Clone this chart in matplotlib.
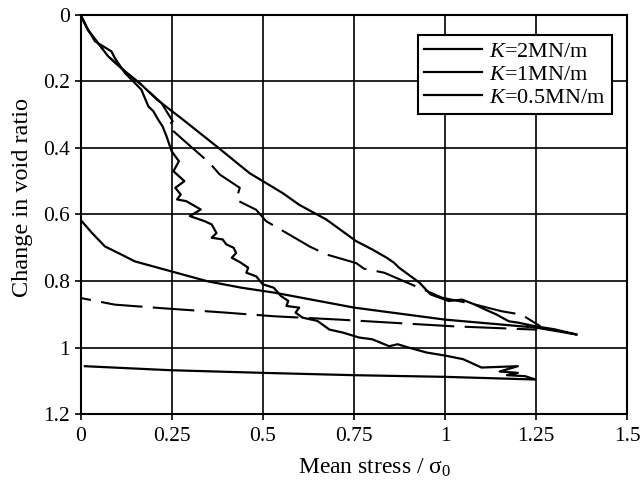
import matplotlib
matplotlib.use("Agg")
import matplotlib.pyplot as plt
from matplotlib.lines import Line2D

plt.rcParams["font.family"] = ["Liberation Serif", "DejaVu Serif"]
plt.rcParams["mathtext.fontset"] = "custom"
plt.rcParams["mathtext.it"] = "Liberation Serif:italic"
plt.rcParams["mathtext.rm"] = "Liberation Serif"

# K = 2 MN/m : loading then unloading
k2_x = [0, 0.02, 0.076, 0.122, 0.167, 0.21, 0.281, 0.373, 0.464, 0.555, 0.6,
        0.674, 0.756, 0.80, 0.84, 0.86, 0.874, 0.93, 0.96, 0.975, 1.01, 1.047,
        1.08, 1.111, 1.14, 1.175, 1.20, 1.248, 1.30, 1.362,
        1.25, 1.0, 0.751, 0.532, 0.441, 0.349, 0.249, 0.149, 0.113, 0.067,
        0.031, 0.0]
k2_y = [0, 0.045, 0.125, 0.17, 0.21, 0.255, 0.315, 0.395, 0.476, 0.536, 0.571,
        0.615, 0.68, 0.705, 0.73, 0.745, 0.76, 0.805, 0.84, 0.846, 0.86, 0.856,
        0.87, 0.886, 0.90, 0.921, 0.925, 0.936, 0.945, 0.961,
        0.94, 0.916, 0.88, 0.835, 0.82, 0.801, 0.771, 0.741, 0.721, 0.696,
        0.655, 0.616]

# K = 1 MN/m
k1_x = [0, 0.02, 0.076, 0.122, 0.167, 0.222, 0.253, 0.24, 0.286, 0.354, 0.382,
        0.437, 0.427, 0.482, 0.509, 0.619, 0.628, 0.674, 0.756, 0.778, 0.833,
        0.92, 0.992, 1.08, 1.156, 1.21, 1.26,
        1.248, 1.02, 0.71, 0.532, 0.386, 0.24, 0.094, 0.0]
k1_y = [0, 0.045, 0.125, 0.17, 0.21, 0.265, 0.32, 0.335, 0.38, 0.445, 0.48,
        0.52, 0.556, 0.586, 0.62, 0.69, 0.696, 0.72, 0.746, 0.763, 0.775,
        0.816, 0.85, 0.87, 0.891, 0.901, 0.935,
        0.946, 0.936, 0.916, 0.906, 0.894, 0.883, 0.871, 0.851]

# K = 0.5 MN/m
k05_x = [0, 0.021, 0.04, 0.085, 0.094, 0.122, 0.167, 0.186, 0.20, 0.213,
         0.225, 0.236, 0.25, 0.27, 0.255, 0.285, 0.26, 0.275, 0.265, 0.29,
         0.33, 0.30, 0.34, 0.36, 0.373, 0.36, 0.39, 0.40, 0.42, 0.427, 0.415,
         0.44, 0.46, 0.455, 0.482, 0.50, 0.515, 0.53, 0.55, 0.57, 0.565, 0.60,
         0.59, 0.609, 0.65, 0.683, 0.72, 0.765, 0.80, 0.847, 0.87, 0.90, 0.95,
         1.0, 1.05, 1.10, 1.2, 1.15, 1.2, 1.17, 1.22, 1.248,
         1.0, 0.751, 0.5, 0.245, 0.012]
k05_y = [0, 0.045, 0.08, 0.11, 0.13, 0.175, 0.225, 0.275, 0.29, 0.315,
         0.335, 0.365, 0.41, 0.44, 0.47, 0.5, 0.52, 0.54, 0.555, 0.56,
         0.585, 0.605, 0.62, 0.63, 0.656, 0.67, 0.675, 0.69, 0.70, 0.716, 0.73,
         0.745, 0.76, 0.775, 0.786, 0.81, 0.815, 0.82, 0.845, 0.86, 0.875, 0.88,
         0.895, 0.91, 0.92, 0.946, 0.955, 0.97, 0.975, 0.996, 0.99, 1.0, 1.015,
         1.024, 1.035, 1.06, 1.056, 1.072, 1.076, 1.083, 1.086, 1.096,
         1.088, 1.083, 1.076, 1.068, 1.056]

x_ticks = [0, 0.25, 0.5, 0.75, 1, 1.25, 1.5]
x_labels = ["0", "0.25", "0.5", "0.75", "1", "1.25", "1.5"]
y_ticks = [0, 0.2, 0.4, 0.6, 0.8, 1.0, 1.2]
y_labels = ["0", "0.2", "0.4", "0.6", "0.8", "1", "1.2"]
legend_labels = ["$K$=2MN/m", "$K$=1MN/m", "$K$=0.5MN/m"]

fig = plt.figure(figsize=(6.44, 4.93), dpi=100)
ax = fig.add_axes([0.125, 0.160, 0.849, 0.810])

ax.plot(k2_x, k2_y, color="black", lw=1.6)
ax.plot(k1_x, k1_y, color="black", lw=1.5, dashes=(20, 5))
ax.plot(k05_x, k05_y, color="black", lw=1.6)

ax.set_xlim(0, 1.5)
ax.set_ylim(1.2, 0)
ax.set_xticks(x_ticks)
ax.set_xticklabels(x_labels)
ax.set_yticks(y_ticks)
ax.set_yticklabels(y_labels)
ax.tick_params(labelsize=15.5, direction="out", length=4, width=1.2,
               colors="black")
ax.tick_params(axis="x", pad=5)
ax.grid(True, color="black", lw=1.2)
for s in ax.spines.values():
    s.set_linewidth(1.5)

ax.set_xlabel("Mean stress / σ$_0$", fontsize=17)
ax.set_ylabel("Change in void ratio", fontsize=17.5)
ax.xaxis.set_label_coords(0.538, -0.106)
ax.yaxis.set_label_coords(-0.086, 0.543)

handles = [Line2D([], [], color="black", lw=1.6) for _ in legend_labels]
leg = ax.legend(handles, legend_labels, loc="upper right",
                bbox_to_anchor=(0.972, 0.95), borderaxespad=0, fontsize=16,
                frameon=True, fancybox=False, framealpha=1, edgecolor="black",
                handlelength=2.6, borderpad=0.3, labelspacing=0.1,
                handletextpad=0.3)
leg.get_frame().set_linewidth(1.5)

fig.savefig("out.png", dpi=100)
